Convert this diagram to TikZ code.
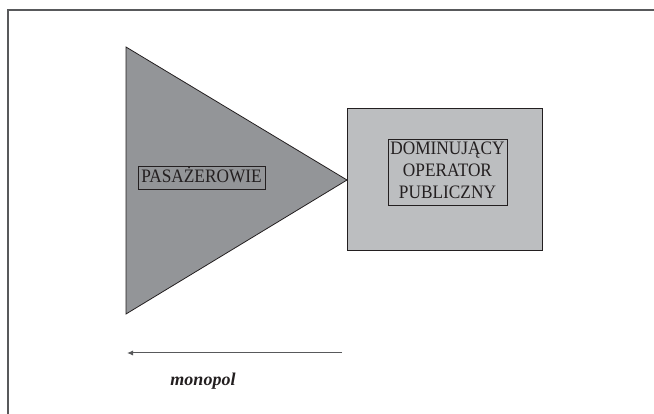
\documentclass[tikz,border=0pt]{standalone}
\usepackage{fontspec}
\usepackage{graphicx}
\setmainfont{Liberation Serif}
\usetikzlibrary{positioning,arrows.meta}
\definecolor{darkfill}{RGB}{147,149,152}
\definecolor{lightfill}{RGB}{188,190,192}
\definecolor{edgecol}{RGB}{35,31,32}
\definecolor{framecol}{RGB}{88,89,91}
\newcommand{\narrowtxt}[1]{\scalebox{0.91}[1]{\begin{tabular}{@{}c@{}}#1\end{tabular}}}
\tikzset{
  lblbox/.style={rectangle, draw=edgecol, line width=0.8pt, inner sep=0pt, text=edgecol,
    font=\fontsize{19}{22}\selectfont, align=center},
  operbox/.style={rectangle, draw=edgecol, fill=lightfill, line width=1pt,
    minimum width=195pt, minimum height=142pt, inner sep=0pt},
  pline/.style={-{Latex[length=6pt,width=5pt]}, draw=framecol, line width=1pt}
}
\begin{document}
\begin{tikzpicture}[x=1pt,y=-1pt]
\useasboundingbox (0,0) rectangle (654,414);
% frame
\draw[framecol, line width=1.5pt] (8,414) -- (8,10) -- (654,10);
% triangle
\coordinate (TL) at (126,47);
\coordinate (BL) at (126,314);
\coordinate (TIP) at (347,180);
\draw[fill=darkfill, draw=edgecol, line width=0.8pt] (TL) -- (TIP) -- (BL) -- cycle;
\node (PAS) [lblbox, minimum width=127pt, minimum height=22pt] at (201.5,178) {\narrowtxt{PASAŻEROWIE}};
% operator
\node (OP) [operbox, anchor=west] at (TIP) {};
\node (DOP) [lblbox, minimum width=119pt, minimum height=66pt] at (447.5,172) {\narrowtxt{DOMINUJĄCY\\OPERATOR\\PUBLICZNY}};
% monopol
\coordinate (AR) at (342,353);
\coordinate (AL) at (127,353);
\draw[pline] (AR) -- (AL);
\node (MON) [font=\fontsize{18}{21}\selectfont\bfseries\itshape, text=edgecol] at (203,381) {monopol};
\end{tikzpicture}
\end{document}
